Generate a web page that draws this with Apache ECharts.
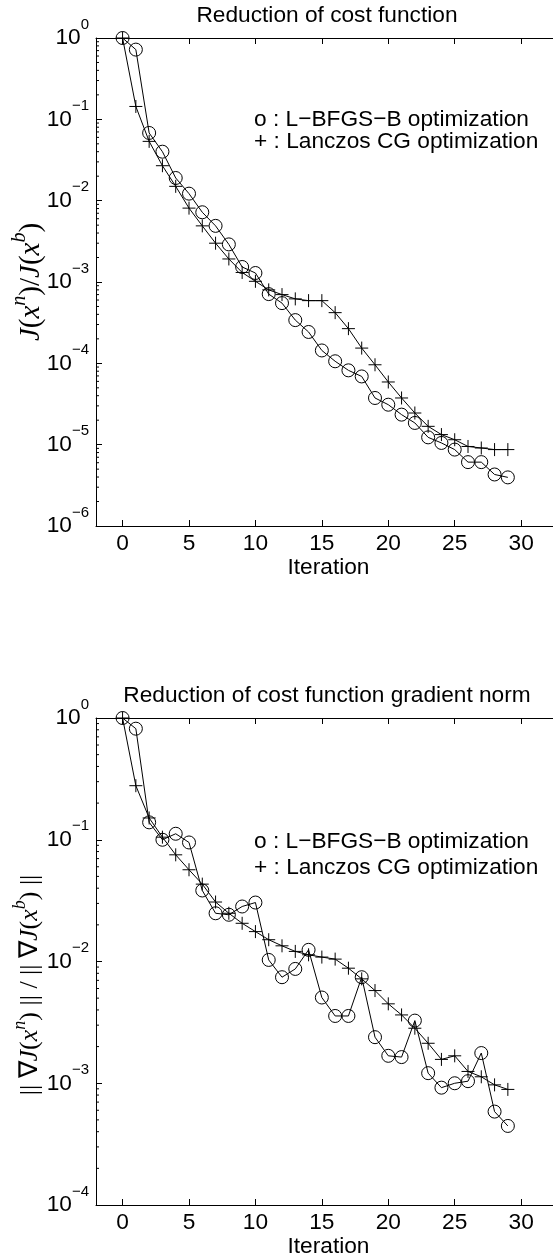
<!DOCTYPE html>
<html>
<head>
<meta charset="utf-8">
<script src="https://cdn.jsdelivr.net/npm/echarts@6/dist/echarts.min.js"></script>
<style>
  html, body { margin: 0; padding: 0; background: #fff; }
  #chart { width: 553px; height: 1260px; }
</style>
</head>
<body>
<div id="chart"></div>
<script>
// Iteration index of each minimisation step
const iterations = [0, 1, 2, 3, 4, 5, 6, 7, 8, 9, 10, 11, 12, 13, 14, 15, 16, 17, 18, 19, 20, 21, 22, 23, 24, 25, 26, 27, 28, 29];

// Normalised cost J(x^n)/J(x^b)
const costLbfgs = [1.0, 0.72, 0.068, 0.040, 0.019, 0.0122, 0.0072, 0.0049, 0.0029, 0.00153, 0.00129, 0.00071, 0.00055, 0.00034, 0.000243, 0.000144, 0.000106, 8.2e-5, 6.9e-5, 3.75e-5, 3.1e-5, 2.34e-5, 1.85e-5, 1.23e-5, 1.05e-5, 8.7e-6, 6.1e-6, 6.1e-6, 4.3e-6, 3.96e-6];
const costLanczos = [1.0, 0.144, 0.0536, 0.0269, 0.015, 0.0081, 0.0049, 0.0030, 0.00192, 0.00131, 0.00102, 0.00080, 0.00070, 0.00062, 0.00059, 0.00059, 0.00042, 0.000267, 0.000154, 9.6e-5, 5.9e-5, 3.75e-5, 2.45e-5, 1.68e-5, 1.33e-5, 1.15e-5, 9.5e-6, 9.1e-6, 8.7e-6, 8.7e-6];

// Normalised gradient norm ||grad J(x^n)|| / ||grad J(x^b)||
const gradLbfgs = [1.0, 0.817, 0.139, 0.100, 0.112, 0.095, 0.0383, 0.0249, 0.0242, 0.0283, 0.0305, 0.0103, 0.00743, 0.00869, 0.01247, 0.00506, 0.00357, 0.00357, 0.00743, 0.00239, 0.00168, 0.00164, 0.00327, 0.00121, 0.00092, 0.00100, 0.00104, 0.00177, 0.000585, 0.000446];
const gradLanczos = [1.0, 0.278, 0.151, 0.105, 0.0752, 0.0567, 0.0432, 0.0308, 0.0249, 0.0206, 0.0176, 0.0151, 0.01345, 0.0121, 0.01135, 0.01087, 0.01046, 0.00881, 0.0072, 0.00577, 0.00449, 0.00364, 0.00283, 0.00213, 0.00157, 0.00168, 0.00125, 0.00113, 0.00097, 0.00089];

// Axis ticks and texts
const xTickValues = [0, 5, 10, 15, 20, 25, 30];
const costDecades = [1e-6, 1e-5, 1e-4, 1e-3, 1e-2, 1e-1, 1];
const gradDecades = [1e-4, 1e-3, 1e-2, 1e-1, 1];
const minorMantissas = [2, 3, 4, 5, 6, 7, 8, 9];
const panelTitles = ['Reduction of cost function', 'Reduction of cost function gradient norm'];
const legendLines = ['o : L\u2212BFGS\u2212B optimization', '+ : Lanczos CG optimization'];
const xAxisTitle = 'Iteration';

const SANS = "'Liberation Sans', Arial, Helvetica, sans-serif";
const SERIF = "'Liberation Serif', 'Times New Roman', serif";
const FS = 22.7;

const panels = [
  { top: 38, height: 488, min: 1e-6, max: 1, decades: costDecades, lbfgs: costLbfgs, lanczos: costLanczos,
    titleTop: 4, legendY: [120, 142], labelX: 31, labelY: 282, labelSize: 29 },
  { top: 718, height: 487, min: 1e-4, max: 1, decades: gradDecades, lbfgs: gradLbfgs, lanczos: gradLanczos,
    titleTop: 684, legendY: [842, 868], labelX: 30, labelY: 985, labelSize: 26 }
];
const GRID_LEFT = 96, GRID_WIDTH = 465;

const pairs = (ys) => iterations.map((x, i) => [x, ys[i]]);

function expLabel(v) {
  const e = Math.round(Math.log10(v));
  const s = e < 0 ? '\u2212' + (-e) : String(e);
  return '{b|10}{s|' + s + '}';
}

const grid = [], xAxis = [], yAxis = [], series = [], title = [];
panels.forEach((p, g) => {
  grid.push({ left: GRID_LEFT, top: p.top, width: GRID_WIDTH, height: p.height, outerBoundsMode: 'none', containLabel: false });
  title.push({
    text: panelTitles[g], left: 327, top: p.titleTop, textAlign: 'center', padding: 0,
    textStyle: { fontFamily: SANS, fontSize: FS, fontWeight: 'normal', color: '#000' }
  });
  // bottom axis with labels
  xAxis.push({
    type: 'value', gridIndex: g, min: -2, max: 33, position: 'bottom',
    axisLine: { onZero: false, lineStyle: { color: '#000', width: 1 } },
    axisTick: { inside: true, length: 6, customValues: xTickValues, lineStyle: { color: '#000', width: 1 } },
    axisLabel: { customValues: xTickValues, color: '#000', fontFamily: SANS, fontSize: FS, margin: 6 },
    splitLine: { show: false },
    name: xAxisTitle, nameLocation: 'middle', nameGap: 30, nameMoveOverlap: false,
    nameTextStyle: { fontFamily: SANS, fontSize: FS, color: '#000' }
  });
  // top frame edge
  xAxis.push({
    type: 'value', gridIndex: g, min: -2, max: 33, position: 'top',
    axisLine: { onZero: false, lineStyle: { color: '#000', width: 1 } },
    axisTick: { inside: true, length: 6, customValues: xTickValues, lineStyle: { color: '#000', width: 1 } },
    axisLabel: { show: false },
    splitLine: { show: false }
  });
  yAxis.push({
    type: 'log', logBase: 10, gridIndex: g, min: p.min, max: p.max,
    splitNumber: Math.round(Math.log10(p.max / p.min)),
    axisLine: { onZero: false, lineStyle: { color: '#000', width: 1 } },
    axisTick: { inside: true, length: 6, lineStyle: { color: '#000', width: 1 } },
    axisLabel: {
      margin: 7, color: '#000', formatter: expLabel,
      rich: {
        b: { fontFamily: SANS, fontSize: FS, color: '#000', lineHeight: 42 },
        s: { fontFamily: SANS, fontSize: 15, color: '#000', verticalAlign: 'top', lineHeight: 20 }
      }
    },
    splitLine: { show: false },
    minorTick: { show: false }
  });
  const common = {
    type: 'line', xAxisIndex: 2 * g, yAxisIndex: g, showAllSymbol: true, symbolSize: 13,
    lineStyle: { color: '#000', width: 1 }, emphasis: { disabled: true }, silent: true, animation: false
  };
  series.push(Object.assign({}, common, {
    name: 'L-BFGS-B', data: pairs(p.lbfgs), symbol: 'circle',
    itemStyle: { color: 'rgba(0,0,0,0)', borderColor: '#000', borderWidth: 1 }
  }));
  series.push(Object.assign({}, common, {
    name: 'Lanczos CG', data: pairs(p.lanczos), symbol: 'path://M5,0L5,10M0,5L10,5', symbolSize: 13,
    itemStyle: { color: 'none', borderColor: '#000', borderWidth: 1 }
  }));
});

const chart = echarts.init(document.getElementById('chart'), null, { renderer: 'canvas' });
chart.setOption({ backgroundColor: '#fff', animation: false, title, grid, xAxis, yAxis, series });

// Log minor ticks on the left frame edge, plus in-plot texts
const graphic = [];
panels.forEach((p, g) => {
  p.decades.slice(0, -1).forEach((d) => {
    minorMantissas.forEach((m) => {
      const y = chart.convertToPixel({ yAxisIndex: g }, m * d);
      graphic.push({ type: 'line', silent: true, shape: { x1: GRID_LEFT, y1: y, x2: GRID_LEFT + 3, y2: y },
        style: { stroke: '#000', lineWidth: 1 } });
    });
  });
  legendLines.forEach((t, k) => {
    graphic.push({ type: 'text', silent: true, x: 254, y: p.legendY[k],
      style: { text: t, fontFamily: SANS, fontSize: FS, fill: '#000', align: 'left', verticalAlign: 'middle' } });
  });
});

function labelRich(size) {
  return {
    i: { fontFamily: SERIF, fontStyle: 'italic', fontSize: size, fill: '#000', lineHeight: size * 1.45 },
    r: { fontFamily: SERIF, fontSize: size, fill: '#000', lineHeight: size * 1.45 },
    s: { fontFamily: SERIF, fontStyle: 'italic', fontSize: Math.round(size * 0.68), fill: '#000', verticalAlign: 'top', lineHeight: size * 0.85 }
  };
}
const yTitles = [
  '{i|J}{r|(}{i|x}{s|n}{r|)/}{i|J}{r|(}{i|x}{s|b}{r|)}',
  '{r||| \u2207}{i|J}{r|(}{i|x}{s|n}{r|) || / || \u2207}{i|J}{r|(}{i|x}{s|b}{r|) ||}'
];
panels.forEach((p, g) => {
  graphic.push({ type: 'text', silent: true, x: p.labelX, y: p.labelY, rotation: Math.PI / 2,
    style: { text: yTitles[g], rich: labelRich(p.labelSize), align: 'center', verticalAlign: 'middle' } });
});
chart.setOption({ graphic });
</script>
</body>
</html>
